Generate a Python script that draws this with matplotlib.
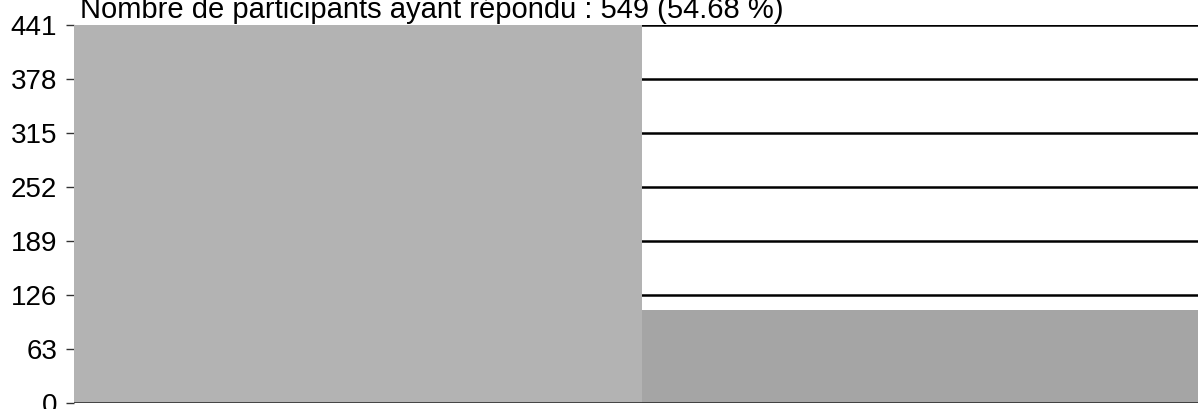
import matplotlib.pyplot as plt
import matplotlib

matplotlib.rc('font', family='Liberation Sans')

categories = ['Oui', 'Non']
counts = [441, 108]
colors = ['#b3b3b3', '#a5a5a5']
yticks = [0, 63, 126, 189, 252, 315, 378, 441]
title = "Nombre de participants ayant répondu : 549 (54.68 %)"

fig = plt.figure(figsize=(11.98, 4.09), dpi=100)
ax = fig.add_axes([74 / 1198, 6 / 409, 1 - 74 / 1198, 378 / 409])

ax.bar(range(len(counts)), counts, width=1.0, color=colors, zorder=2)
ax.set_xlim(-0.5, 1.479)
ax.set_ylim(0, 441)
ax.set_yticks(yticks)
ax.set_xticks([])
ax.tick_params(axis='y', labelsize=20, length=6, width=1, color='#333333', pad=6)
ax.yaxis.grid(True, color='black', linewidth=1.8, zorder=1)
ax.set_axisbelow(True)
for s in ax.spines.values():
    s.set_visible(False)
# baseline at zero drawn over the bars
ax.axhline(0, color='#222222', linewidth=1.8, zorder=3)

fig.text(80 / 1198, 1 - 18 / 409, title, fontsize=21, ha='left', va='baseline')

fig.savefig('out.png', dpi=100)
